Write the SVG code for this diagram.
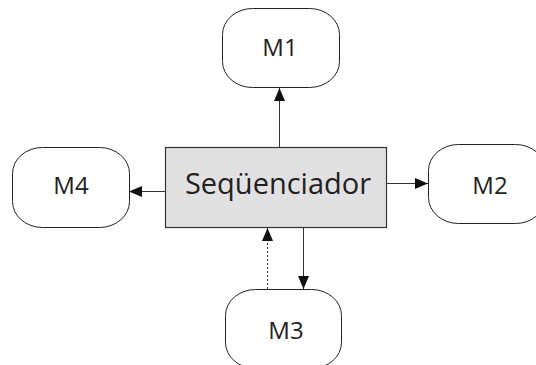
<svg xmlns="http://www.w3.org/2000/svg" width="536" height="365" viewBox="0 0 536 365">
  <defs>
    <marker id="arrow" markerUnits="userSpaceOnUse" markerWidth="13" markerHeight="11" refX="13" refY="5.5" orient="auto">
      <path d="M0,0 L13,5.5 L0,11 Z" fill="#111"/>
    </marker>
    <style>
      .module { fill: #fff; stroke: #222; stroke-width: 1; }
      .seq { fill: #e1e1e1; stroke: #333; stroke-width: 1.2; }
      .label { font-family: "Open Sans", "Noto Sans", "Liberation Sans", sans-serif; fill: #222; text-anchor: middle; }
      .small { font-size: 24px; }
      .big { font-size: 29px; }
      .link { stroke: #333; stroke-width: 1; fill: none; marker-end: url(#arrow); }
      .dashed { stroke-dasharray: 2 2; }
    </style>
  </defs>
  <rect width="536" height="365" fill="#fff"/>

  <g id="sequenciador">
    <rect class="seq" x="165.5" y="147.5" width="221" height="80"/>
    <text class="label big" x="278" y="194">Seqüenciador</text>
  </g>

  <g id="m1">
    <rect class="module" x="222.5" y="8.5" width="117" height="79" rx="30" ry="26"/>
    <text class="label small" x="280" y="56">M1</text>
  </g>

  <g id="m2">
    <rect class="module" x="428.5" y="144.5" width="117" height="79" rx="30" ry="26"/>
    <text class="label small" x="490" y="194">M2</text>
  </g>

  <g id="m3">
    <rect class="module" x="225.5" y="289.5" width="116" height="79" rx="30" ry="26"/>
    <text class="label small" x="286" y="339">M3</text>
  </g>

  <g id="m4">
    <rect class="module" x="12.5" y="147.5" width="117" height="80" rx="30" ry="26"/>
    <text class="label small" x="71" y="194">M4</text>
  </g>

  <g id="connectors">
    <line class="link" x1="279.5" y1="147" x2="279.5" y2="88"/>
    <line class="link" x1="386" y1="183.5" x2="428" y2="183.5"/>
    <line class="link" x1="165" y1="191.5" x2="129" y2="191.5"/>
    <line class="link" x1="303.5" y1="228" x2="303.5" y2="289"/>
    <line class="link dashed" x1="267.5" y1="289" x2="267.5" y2="228"/>
  </g>
</svg>
